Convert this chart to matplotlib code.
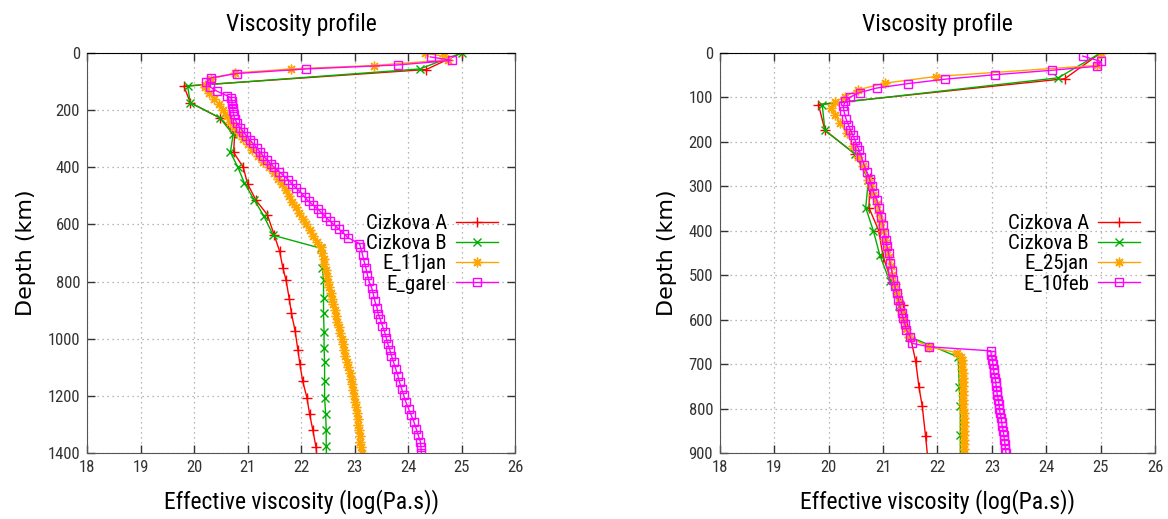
import matplotlib
matplotlib.use("Agg")
import matplotlib.pyplot as plt
from matplotlib import font_manager

# pick a narrow font if one is installed (gnuplot output uses a condensed face)
names = set(f.name for f in font_manager.fontManager.ttflist)
narrow = "DejaVu Sans"
for cand in ["DejaVu Sans Condensed", "Liberation Sans Narrow", "Roboto Condensed", "Open Sans Condensed"]:
    if cand in names:
        narrow = cand
        break

# ---- Cizkova profiles (same in both panels)
cA_depth = [0, 58, 116, 174, 227, 281, 348, 400, 458, 516, 566, 638, 694, 752, 795, 861,
            910, 974, 1038, 1090, 1148, 1206, 1264, 1319, 1380, 1440]
cA_visc = [25.0, 24.34, 19.81, 19.93, 20.48, 20.76, 20.74, 20.92, 21.0, 21.16, 21.37, 21.5,
           21.6, 21.66, 21.72, 21.78, 21.82, 21.89, 21.94, 21.98, 22.03, 22.11, 22.16, 22.22,
           22.28, 22.31]

cB_depth = [0, 56, 116, 174, 227, 285, 348, 400, 455, 513, 569, 638, 684, 751, 795, 859,
            910, 975, 1031, 1083, 1148, 1206, 1264, 1319, 1374, 1440]
cB_visc = [25.0, 24.22, 19.88, 19.93, 20.48, 20.73, 20.68, 20.82, 20.94, 21.12, 21.30, 21.48,
           22.38, 22.40, 22.42, 22.42, 22.42, 22.43, 22.43, 22.44, 22.44, 22.44, 22.46, 22.47,
           22.47, 22.48]

# ---- left panel: E_11jan
e11_depth = [0, 12, 24, 44, 56, 70, 91, 111,
             120, 140, 160, 180, 200, 220, 240, 260, 280, 300, 320, 340, 360, 380, 400,
             420, 440, 460, 480, 500, 520, 540, 560, 580, 600, 620, 640, 660, 680,
             700, 720, 740, 760, 780, 800, 820, 840, 860, 880, 900, 920, 940, 960, 980,
             1000, 1020, 1040, 1060, 1080, 1100, 1120, 1140, 1160, 1180, 1200, 1220,
             1240, 1260, 1280, 1300, 1320, 1340, 1360, 1380, 1400]
e11_visc = [24.31, 24.68, 24.74, 23.36, 21.81, 20.76, 20.32, 20.21,
            20.20, 20.28, 20.38, 20.47, 20.55, 20.62, 20.68, 20.75, 20.84, 20.92, 21.00,
            21.09, 21.19, 21.29, 21.40, 21.50, 21.57, 21.64, 21.71, 21.78, 21.84, 21.90,
            21.96, 22.03, 22.10, 22.16, 22.23, 22.30, 22.37,
            22.40, 22.42, 22.43, 22.46, 22.48, 22.51, 22.53, 22.56, 22.58, 22.60, 22.63,
            22.65, 22.68, 22.71, 22.73, 22.76, 22.78, 22.80, 22.83, 22.86, 22.88, 22.91,
            22.93, 22.95, 22.97, 22.99, 23.00, 23.02, 23.04, 23.06, 23.07, 23.09, 23.10,
            23.11, 23.12, 23.13]

# ---- left panel: E_garel
eg_depth = [14, 26, 42, 56, 72, 87, 102, 119, 134, 149, 157, 168, 180, 192, 203, 215, 230,
            244, 261, 276, 290, 304, 316, 331, 346, 360, 374, 388, 400, 415, 429, 443, 458,
            473, 487, 505, 519, 532, 545, 559, 574, 589, 603, 617, 632, 647, 667, 678, 707,
            730, 751, 776, 799, 822, 843, 869, 892, 913, 932, 955, 975, 996, 1017, 1040,
            1059, 1083, 1106, 1129, 1152, 1175, 1198, 1222, 1245, 1268, 1291, 1314, 1337,
            1360, 1378, 1400]
eg_visc = [24.42, 24.82, 23.81, 22.10, 20.80, 20.32, 20.23, 20.30, 20.43, 20.61, 20.69,
           20.71, 20.71, 20.72, 20.73, 20.74, 20.76, 20.80, 20.86, 20.92, 20.98, 21.04,
           21.10, 21.17, 21.23, 21.29, 21.37, 21.43, 21.50, 21.59, 21.67, 21.76, 21.83,
           21.91, 21.99, 22.07, 22.14, 22.22, 22.31, 22.38, 22.46, 22.54, 22.63, 22.71,
           22.80, 22.88, 23.09, 23.11, 23.15, 23.18, 23.21, 23.24, 23.27, 23.32, 23.35,
           23.38, 23.42, 23.44, 23.48, 23.52, 23.56, 23.59, 23.62, 23.66, 23.69, 23.73,
           23.77, 23.81, 23.84, 23.88, 23.92, 23.96, 24.01, 24.06, 24.11, 24.15, 24.19,
           24.23, 24.24, 24.25]

# ---- right panel: E_25jan
e25_depth = [0, 28, 53, 68, 83, 98, 111, 124, 139, 158, 180, 210, 233, 255, 285,
             300, 320, 340, 360, 380, 400, 420, 440, 460, 480, 500, 520, 540, 560, 580,
             600, 620, 640, 661, 674, 683,
             690, 700, 710, 720, 730, 740, 750, 760, 770, 780, 790, 800, 810, 820, 830,
             840, 850, 860, 870, 880, 890, 900]
e25_visc = [25.0, 24.93, 21.97, 21.03, 20.54, 20.30, 20.11, 20.05, 20.11, 20.21, 20.33,
            20.45, 20.54, 20.63, 20.73,
            20.77, 20.82, 20.88, 20.93, 20.97, 21.00, 21.03, 21.07, 21.10, 21.14, 21.17,
            21.21, 21.25, 21.29, 21.33, 21.37, 21.42, 21.48, 21.85, 22.35, 22.44,
            22.45, 22.45, 22.45, 22.46, 22.46, 22.46, 22.46, 22.47, 22.47, 22.47, 22.47,
            22.47, 22.48, 22.48, 22.48, 22.48, 22.48, 22.49, 22.49, 22.49, 22.49, 22.49]

# ---- right panel: E_10feb
e10_depth = [7, 19, 30, 39, 49, 59, 69, 79, 89, 99, 109,
             120, 131, 149, 161, 173, 184, 195, 209, 219, 233, 252, 267, 284, 300, 315,
             330, 349, 368, 387, 405, 420, 435, 450, 473, 490, 510, 525, 540, 555, 570,
             585, 597, 610, 623, 638, 653, 661,
             670, 680, 690, 700, 710, 720, 730, 740, 750, 760, 770, 780, 790, 800, 810,
             820, 830, 840, 850, 860, 870, 880, 890, 900]
e10_visc = [24.67, 25.0, 24.94, 24.10, 23.06, 22.14, 21.46, 20.88, 20.57, 20.40, 20.30,
            20.27, 20.28, 20.32, 20.36, 20.40, 20.44, 20.48, 20.52, 20.56, 20.60, 20.65,
            20.70, 20.75, 20.79, 20.83, 20.88, 20.93, 20.97, 21.00, 21.02, 21.05, 21.07,
            21.10, 21.13, 21.16, 21.19, 21.22, 21.25, 21.28, 21.31, 21.34, 21.37, 21.40,
            21.43, 21.50, 21.53, 21.85,
            22.98, 22.99, 23.01, 23.02, 23.03, 23.04, 23.06, 23.07, 23.08, 23.09, 23.10,
            23.12, 23.13, 23.14, 23.15, 23.17, 23.18, 23.19, 23.21, 23.22, 23.23, 23.24,
            23.25, 23.26]

red = "#ff0000"
green = "#00b000"
orange = "#ffa500"
magenta = "#ff00ff"
star = (8, 2, 0)

fig = plt.figure(figsize=(11.68, 5.19), dpi=100)
axL = fig.add_axes([0.0745, 0.127, 0.3665, 0.771])
axR = fig.add_axes([0.6164, 0.127, 0.3725, 0.771])


def style_axes(ax, ymax, ystep, legend_x):
    ax.set_xlim(18, 26)
    ax.set_ylim(ymax, 0)
    ax.set_xticks(range(18, 27))
    ax.set_yticks(range(0, ymax + 1, ystep))
    ax.grid(True, color="#a0a0a0", linestyle=(0, (1, 3)), linewidth=0.9)
    ax.tick_params(direction="in", length=6, width=1, top=True, right=True,
                   labelsize=12, colors="#333333", pad=5)
    for lab in ax.get_xticklabels() + ax.get_yticklabels():
        lab.set_fontfamily(narrow)
    for side in ["left", "bottom", "right"]:
        ax.spines[side].set_color("#555555")
    ax.spines["top"].set_color("black")
    ax.set_title("Viscosity profile", fontsize=17, family=narrow, pad=16)
    ax.set_xlabel("Effective viscosity (log(Pa.s))", fontsize=17, family=narrow, labelpad=10)
    ax.set_ylabel("Depth (km)", fontsize=16, family="DejaVu Sans", labelpad=8)
    ax.legend(loc="upper right", bbox_to_anchor=(legend_x, 0.588),
              bbox_transform=fig.transFigure, frameon=False, markerfirst=False,
              prop={"family": narrow, "size": 15}, handlelength=2.0,
              handletextpad=0.45, labelspacing=0.06, borderpad=0, borderaxespad=0)


kw = dict(linewidth=1, markersize=7, markeredgewidth=1)
axL.plot(cA_visc, cA_depth, color=red, marker="+", label="Cizkova A", **kw)
axL.plot(cB_visc, cB_depth, color=green, marker="x", label="Cizkova B", markersize=6,
         linewidth=1, markeredgewidth=1)
axL.plot(e11_visc, e11_depth, color=orange, marker=star, label="E_11jan", **kw)
axL.plot(eg_visc, eg_depth, color=magenta, marker="s", markerfacecolor="none",
         label="E_garel", linewidth=1, markersize=6, markeredgewidth=1)
style_axes(axL, 1400, 200, 0.4264)

axR.plot(cA_visc, cA_depth, color=red, marker="+", label="Cizkova A", **kw)
axR.plot(cB_visc, cB_depth, color=green, marker="x", label="Cizkova B", markersize=6,
         linewidth=1, markeredgewidth=1)
axR.plot(e25_visc, e25_depth, color=orange, marker=star, label="E_25jan", **kw)
axR.plot(e10_visc, e10_depth, color=magenta, marker="s", markerfacecolor="none",
         label="E_10feb", linewidth=1, markersize=6, markeredgewidth=1)
style_axes(axR, 900, 100, 0.976)

fig.savefig("out.png", dpi=100)
